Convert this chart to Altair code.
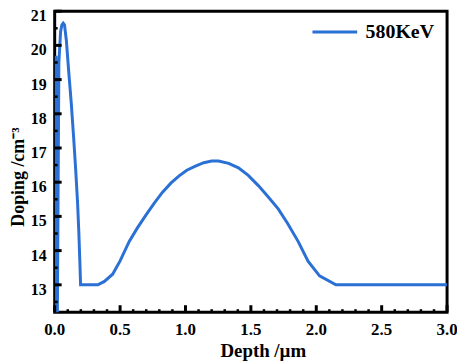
import altair as alt
import pandas as pd

# Depth (um) and doping (log10 cm^-3)
depth = [0.01, 0.015, 0.02, 0.032, 0.045, 0.055, 0.065, 0.075, 0.089, 0.107,
         0.127, 0.145, 0.16, 0.175, 0.185, 0.193, 0.198, 0.25, 0.33, 0.38,
         0.443, 0.5, 0.57, 0.63, 0.696, 0.76, 0.823, 0.89, 0.949, 1.01,
         1.076, 1.14, 1.2, 1.253, 1.33, 1.405, 1.48, 1.557, 1.63, 1.709,
         1.78, 1.861, 1.937, 2.025, 2.15, 2.5, 3.0]
doping = [19.7, 11.8, 11.8, 19.5, 20.4, 20.6, 20.65, 20.6, 20.15, 19.25,
          18.3, 17.3, 16.4, 15.4, 14.5, 13.6, 13.0, 13.0, 13.0, 13.1,
          13.31, 13.7, 14.27, 14.65, 15.03, 15.38, 15.7, 15.98, 16.18, 16.35,
          16.47, 16.57, 16.62, 16.62, 16.55, 16.42, 16.2, 15.9, 15.58, 15.22,
          14.8, 14.27, 13.69, 13.26, 13.0, 13.0, 13.0]
series_name = "580KeV"

x_major = [0.0, 0.5, 1.0, 1.5, 2.0, 2.5, 3.0]
x_minor = [0.1, 0.2, 0.3, 0.4, 0.6, 0.7, 0.8, 0.9, 1.1, 1.2, 1.3, 1.4,
           1.6, 1.7, 1.8, 1.9, 2.1, 2.2, 2.3, 2.4, 2.6, 2.7, 2.8, 2.9]
y_major = [13, 14, 15, 16, 17, 18, 19, 20, 21]
y_minor = [12.5, 13.5, 14.5, 15.5, 16.5, 17.5, 18.5, 19.5, 20.5]
x_title = ["Depth /µm"]
y_title = ["Doping /cm⁻³"]

W, H = 395, 303
FONT = "Liberation Serif"
X0, X1 = 0.0, 3.0
Y0, Y1 = 12.2, 21.0
xs = alt.Scale(domain=[X0, X1], nice=False, zero=False)
ys = alt.Scale(domain=[Y0, Y1], nice=False, zero=False)

df = pd.DataFrame({"depth": depth, "doping": doping,
                   "kind": [series_name] * len(depth)})
xmaj_df = pd.DataFrame({"xt": x_major})
xmin_df = pd.DataFrame({"xm": x_minor})
ymaj_df = pd.DataFrame({"yt": y_major})
ymin_df = pd.DataFrame({"ym": y_minor})
xlab_df = pd.DataFrame({"xl": x_major})
ylab_df = pd.DataFrame({"yl": y_major})

main = alt.Chart(df).mark_line(clip=True, strokeWidth=3).encode(
    x=alt.X("depth:Q", scale=xs, axis=None),
    y=alt.Y("doping:Q", scale=ys, axis=None),
    color=alt.Color("kind:N", scale=alt.Scale(range=["#2b70d4"]), legend=alt.Legend(
        title=None, orient="none", legendX=258, legendY=-3, symbolType="stroke",
        symbolSize=2025, symbolStrokeWidth=3, labelFont=FONT, labelFontSize=20,
        labelFontWeight="bold", labelColor="black", labelOffset=7, padding=0)),
)

def xticks(data, field, length, width):
    return alt.Chart(data).mark_rule(stroke="black", strokeWidth=width).encode(
        x=alt.X(f"{field}:Q", scale=xs, axis=None),
        y=alt.value(H - length), y2=alt.value(H))

def yticks(data, field, length, width):
    return alt.Chart(data).mark_rule(stroke="black", strokeWidth=width).encode(
        y=alt.Y(f"{field}:Q", scale=ys, axis=None),
        x=alt.value(0), x2=alt.value(length))

xlabels = alt.Chart(xlab_df).mark_text(
    font=FONT, fontSize=17, fontWeight="bold", color="black",
    align="center", baseline="middle").encode(
    x=alt.X("xl:Q", scale=xs, axis=None), y=alt.value(H + 18),
    text=alt.Text("xl:Q", format=".1f"))

ylabels = alt.Chart(ylab_df).mark_text(
    font=FONT, fontSize=16, fontWeight="bold", color="black",
    align="right", baseline="middle", dy=5).encode(
    y=alt.Y("yl:Q", scale=ys, axis=None), x=alt.value(-8),
    text=alt.Text("yl:Q", format="d"))

xtitle = alt.Chart(pd.DataFrame({"t": x_title})).mark_text(
    font=FONT, fontSize=19, fontWeight="bold", color="black",
    align="center", baseline="middle").encode(
    x=alt.value(210), y=alt.value(H + 39), text="t:N")

ytitle = alt.Chart(pd.DataFrame({"t": y_title})).mark_text(
    font=FONT, fontSize=18, fontWeight="bold", color="black",
    align="center", baseline="middle", angle=270).encode(
    x=alt.value(-36), y=alt.value(167), text="t:N")

chart = alt.layer(
    main, xlabels, ylabels, xtitle, ytitle,
    xticks(xmaj_df, "xt", 7, 3), xticks(xmin_df, "xm", 3, 2.5),
    yticks(ymaj_df, "yt", 7, 3), yticks(ymin_df, "ym", 3, 2.5),
).properties(
    width=W, height=H,
    autosize=alt.AutoSizeParams(type="none"),
    padding={"left": 47, "top": 2, "right": 10, "bottom": 55},
).configure_view(stroke="black", strokeWidth=3)

chart.save("out.html", embed_options={"renderer": "svg", "actions": False})
